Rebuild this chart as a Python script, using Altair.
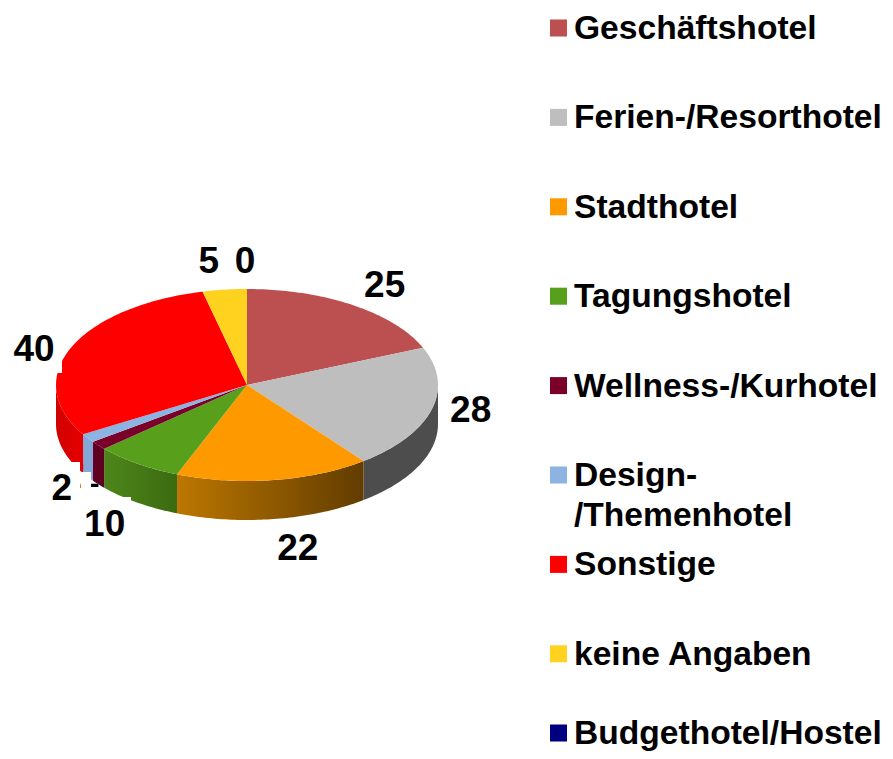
import math
import altair as alt
import pandas as pd

categories = ["Geschäftshotel", "Ferien-/Resorthotel", "Stadthotel", "Tagungshotel", "Wellness-/Kurhotel",
              "Design-\n/Themenhotel", "Sonstige", "keine Angaben", "Budgethotel/Hostel"]
values = [25, 28, 22, 10, 2, 2, 40, 5, 0]
colors = ["#BC5050", "#BEBEBE", "#FF9900", "#58A01C", "#7B0029", "#8DB3E2", "#FF0000", "#FFD21F", "#000080"]

# layout of the tilted pie, in page pixels
CX, CY, RX, RY, DEPTH = 247, 385, 191, 96, 39
LABEL_OFFSET = [(32, -20), (39, 1), (24, 68), (-33, 60), (-9, 31), (-26, 50), (-37, 1), (-16, -29), (-2, -28)]
WALLS = {
    1: ("#4D4D4D", "#4D4D4D"),
    2: ("#BC7700", "#623C00"),
    3: ("#4D861A", "#3B6A10"),
    4: ("#660022", "#5A001E"),
    5: ("#84A7D6", "#84A7D6"),
    6: ("#D00000", "#E60000"),
}
BOXES = [(10, 62, 335, 373), (48, 80, 462, 512), (81, 91, 472, 512), (91, 100, 487, 497), (81, 131, 497, 540)]

total = sum(values)
cum = [0]
for v in values:
    cum.append(cum[-1] + v)
ang = [c / total * 360 for c in cum]


def pt(t, dz=0):
    r = math.radians(t)
    return [CX + RX * math.sin(r), CY - RY * math.cos(r) + dz]


def arc(a, b, dz=0):
    n = max(2, int(abs(b - a)) + 2)
    return [pt(a + (b - a) * i / (n - 1), dz) for i in range(n)]


def feature(coords, name):
    return {"type": "Feature", "properties": {"cat": name},
            "geometry": {"type": "Polygon", "coordinates": [coords + [coords[0]]]}}


W, H = 877, 743
proj = dict(type="identity", scale=1, translate=[-8, -8])
xs = alt.Scale(domain=[8, 8 + W], range=[0, W])
ys = alt.Scale(domain=[8, 8 + H], range=[0, H])

lab = []
for i, v in enumerate(values):
    mx, my = pt((ang[i] + ang[i + 1]) / 2)
    lab.append({"x": mx + LABEL_OFFSET[i][0], "y": my + LABEL_OFFSET[i][1], "t": str(v), "cat": categories[i]})
lab = pd.DataFrame(lab)
label_font = dict(font="Liberation Sans", fontWeight="bold", fontSize=37, color="#000000", align="center",
                  baseline="middle", dy=1)


def text_layer(df):
    return alt.Chart(df).mark_text(**label_font).encode(
        x=alt.X("x:Q", scale=xs, axis=None), y=alt.Y("y:Q", scale=ys, axis=None), text="t:N")


layers = [text_layer(lab[lab.cat == "Wellness-/Kurhotel"])]

for i, (c0, c1) in WALLS.items():
    a, b = max(ang[i], 90), min(ang[i + 1], 270)
    poly = arc(a, b) + arc(b, a, DEPTH)
    layers.append(
        alt.Chart(alt.Data(values=[feature(poly, categories[i])])).mark_geoshape(
            strokeWidth=0,
            fill=alt.Gradient(gradient="linear", x1=0, x2=1, y1=0, y2=0,
                              stops=[alt.GradientStop(color=c0, offset=0), alt.GradientStop(color=c1, offset=1)]),
        ).project(**proj)
    )

tops = [feature([[CX, CY]] + arc(ang[i], ang[i + 1]), categories[i]) for i in range(len(values)) if values[i] > 0]
layers.append(
    alt.Chart(alt.Data(values=tops)).mark_geoshape(strokeWidth=0).encode(
        color=alt.Color("properties.cat:N", scale=alt.Scale(domain=categories, range=colors), legend=None)
    ).project(**proj)
)

boxes = pd.DataFrame(BOXES, columns=["x0", "x1", "y0", "y1"])
layers.append(
    alt.Chart(boxes).mark_rect(color="#FFFFFF").encode(
        x=alt.X("x0:Q", scale=xs, axis=None), x2="x1:Q",
        y=alt.Y("y0:Q", scale=ys, axis=None), y2="y1:Q")
)
layers.append(text_layer(lab[lab.cat != "Wellness-/Kurhotel"]))

leg = pd.DataFrame({"cat": categories, "row": range(len(categories))})
leg["y"] = (28 + leg.row * 89.4).clip(upper=733)
leg["sx"] = 558.5
leg["tx"] = 574
layers.append(
    alt.Chart(leg).mark_square(size=290, opacity=1, filled=True).encode(
        x=alt.X("sx:Q", scale=xs, axis=None), y=alt.Y("y:Q", scale=ys, axis=None),
        color=alt.Color("cat:N", scale=alt.Scale(domain=categories, range=colors), legend=None))
)
layers.append(
    alt.Chart(leg).mark_text(font="Liberation Sans", fontWeight="bold", fontSize=33.6, color="#000000", align="left",
                             baseline="top", dy=-16, lineBreak="\n", lineHeight=40).encode(
        x=alt.X("tx:Q", scale=xs, axis=None), y=alt.Y("y:Q", scale=ys, axis=None), text="cat:N")
)

chart = alt.layer(*layers).properties(
    width=W, height=H, padding=0, autosize=alt.AutoSizeParams(type="none"), background="#FFFFFF"
).configure_view(stroke=None)
chart.save("out.html", embed_options={"renderer": "svg", "actions": False})
